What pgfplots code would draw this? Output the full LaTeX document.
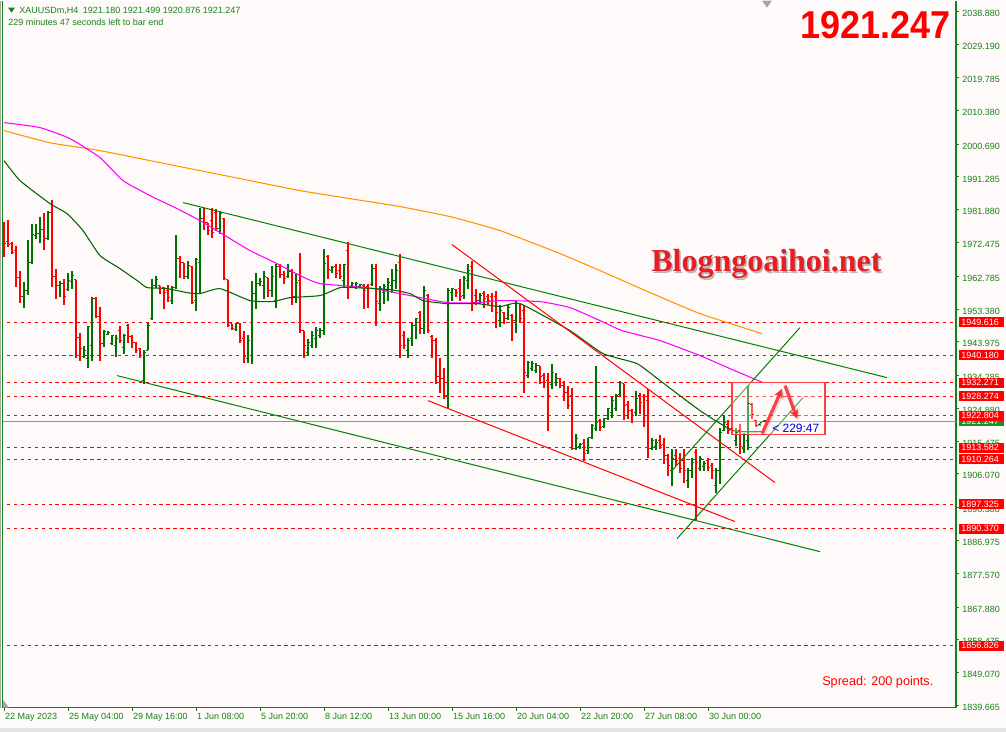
\documentclass[border=0pt]{standalone}
\usepackage{graphicx}
\usepackage{pgfplots}
\pgfplotsset{compat=1.18}
\usepackage{pgfplotstable}
\usepackage{fontspec}
\setmainfont{Liberation Sans}
\newfontfamily\serifbold{Liberation Serif}
\usetikzlibrary{arrows.meta}

\definecolor{bg}{RGB}{255,250,250}
\definecolor{axgreen}{RGB}{24,128,24}
\definecolor{upcol}{RGB}{0,112,0}
\definecolor{dncol}{RGB}{255,0,0}
\definecolor{mamag}{RGB}{255,0,255}
\definecolor{maorange}{RGB}{255,150,0}
\definecolor{magreen}{RGB}{0,100,0}
\definecolor{trgreen}{RGB}{0,128,0}
\definecolor{labred}{RGB}{255,0,0}
\definecolor{labgreen}{RGB}{34,139,34}
\definecolor{wmred}{RGB}{226,32,38}

% open / close ticks of an OHLC bar
\pgfdeclareplotmark{ctick}{\pgfpathmoveto{\pgfpointorigin}\pgfpathlineto{\pgfpoint{1.7pt}{0pt}}\pgfusepathqstroke}
\pgfdeclareplotmark{otick}{\pgfpathmoveto{\pgfpoint{-1.7pt}{0pt}}\pgfpathlineto{\pgfpointorigin}\pgfusepathqstroke}

% XAUUSDm H4 bars: index, open, high, low, close
\pgfplotstableread{
i o h l c
5 1957.0 1961.0 1953.8 1958.7
6 1958.7 1973.3 1957.5 1966.7
7 1966.7 1977.9 1966.4 1974.7
8 1974.5 1977.9 1973.6 1975.0
9 1975.0 1979.9 1972.2 1976.2
11 1973.6 1981.6 1973.3 1981.1
14 1960.1 1961.5 1956.7 1960.7
16 1959.0 1963.6 1958.7 1961.5
17 1961.3 1964.4 1959.0 1963.0
20 1939.7 1942.9 1939.2 1941.5
21 1939.2 1948.6 1936.6 1948.3
22 1942.9 1956.7 1938.6 1956.4
25 1943.5 1947.5 1942.6 1946.9
26 1946.0 1947.2 1945.8 1946.6
27 1943.5 1946.0 1943.2 1945.8
28 1942.9 1946.0 1939.7 1944.9
30 1942.3 1946.3 1940.6 1945.8
35 1932.8 1941.5 1932.0 1940.9
36 1941.5 1949.5 1941.5 1948.6
37 1950.6 1962.1 1950.3 1960.1
38 1960.1 1963.0 1959.5 1961.8
42 1955.8 1960.1 1954.7 1959.5
43 1959.5 1974.5 1959.2 1967.9
46 1962.7 1967.3 1962.1 1965.8
48 1955.8 1968.1 1952.9 1967.6
49 1966.7 1982.5 1958.1 1979.3
54 1976.5 1981.6 1975.0 1980.8
58 1947.5 1949.5 1947.2 1949.2
61 1939.2 1945.8 1938.0 1944.3
62 1940.0 1961.5 1937.7 1957.8
63 1957.8 1963.8 1953.5 1960.7
64 1960.7 1962.4 1960.1 1961.3
65 1960.1 1964.4 1956.4 1962.7
67 1958.7 1965.8 1956.7 1962.7
68 1955.8 1966.4 1953.8 1965.6
71 1962.7 1966.4 1962.4 1964.1
73 1957.0 1963.6 1955.2 1961.0
76 1940.9 1944.9 1940.0 1943.8
77 1942.9 1947.2 1942.3 1945.8
78 1944.9 1948.1 1942.3 1947.2
79 1945.8 1947.8 1945.2 1947.2
80 1947.2 1970.7 1945.8 1966.4
82 1964.4 1965.6 1963.8 1965.3
85 1961.5 1966.4 1959.5 1966.1
87 1959.8 1961.0 1959.5 1960.7
88 1959.5 1961.0 1959.2 1960.7
89 1959.8 1960.7 1959.5 1960.4
92 1960.4 1966.4 1960.1 1965.0
94 1954.9 1960.1 1952.9 1959.2
95 1958.1 1960.7 1954.9 1959.8
96 1958.7 1962.4 1955.8 1961.0
97 1960.1 1965.0 1958.1 1961.5
98 1961.5 1966.4 1959.2 1964.4
101 1941.5 1945.2 1939.4 1944.3
102 1944.9 1949.5 1942.9 1948.6
103 1948.6 1950.9 1944.9 1950.6
105 1947.8 1960.1 1946.3 1958.7
111 1928.5 1959.5 1925.1 1958.7
112 1958.1 1959.5 1955.8 1959.2
115 1957.2 1963.0 1956.4 1962.1
116 1961.5 1966.4 1959.2 1964.4
119 1955.8 1958.1 1954.9 1957.2
124 1950.1 1954.4 1948.1 1952.9
126 1950.6 1954.4 1950.1 1953.8
128 1950.1 1955.8 1946.6 1954.9
131 1934.3 1938.6 1933.7 1938.0
132 1936.3 1938.6 1935.7 1937.7
133 1935.7 1938.0 1934.9 1937.1
137 1931.7 1937.7 1930.5 1935.1
138 1932.3 1934.9 1931.4 1933.4
143 1913.3 1917.6 1912.8 1916.2
144 1913.9 1914.8 1913.3 1914.5
146 1912.8 1916.5 1911.9 1916.5
147 1916.5 1920.5 1916.2 1919.9
148 1919.1 1937.1 1918.5 1920.8
150 1919.6 1922.2 1919.1 1921.9
151 1921.9 1925.1 1921.4 1924.8
152 1923.7 1928.0 1922.2 1927.1
153 1924.8 1929.1 1924.2 1928.5
154 1928.8 1932.8 1928.5 1932.3
158 1923.7 1930.0 1922.8 1927.7
162 1913.3 1916.5 1912.8 1915.6
163 1913.9 1916.2 1912.8 1915.1
167 1907.0 1913.3 1902.7 1910.5
171 1904.1 1907.9 1902.1 1907.0
172 1907.0 1910.5 1905.0 1909.3
174 1907.6 1911.3 1907.0 1910.5
175 1908.2 1909.9 1907.0 1909.0
178 1902.7 1907.9 1900.7 1907.0
179 1907.0 1919.1 1903.3 1917.9
180 1918.5 1922.8 1918.5 1920.8
183 1915.6 1919.1 1914.2 1917.9
185 1913.3 1917.9 1912.2 1917.3
186 1915.6 1931.4 1912.8 1926.2
189 1920.2 1920.8 1919.9 1920.8
190 1921.180 1921.499 1920.876 1921.247
}\upbars

\pgfplotstableread{
i o h l c
0 1977.6 1978.5 1968.4 1972.2
1 1972.7 1978.8 1971.3 1971.9
2 1972.2 1972.5 1969.3 1969.6
3 1970.2 1971.6 1959.8 1962.4
4 1962.4 1964.4 1955.2 1957.0
10 1976.2 1980.8 1970.2 1973.6
12 1981.1 1984.8 1959.8 1962.7
13 1962.7 1965.0 1956.4 1960.1
15 1960.7 1962.1 1954.4 1957.0
18 1961.8 1961.8 1939.2 1945.2
19 1945.2 1946.6 1938.6 1942.0
23 1956.4 1956.7 1950.9 1951.2
24 1951.2 1954.1 1938.6 1943.5
29 1947.2 1948.6 1943.5 1944.3
31 1948.6 1949.2 1943.5 1945.5
32 1945.5 1945.8 1942.3 1943.8
33 1943.8 1943.8 1940.9 1941.5
34 1942.0 1942.3 1939.2 1940.0
39 1960.1 1960.1 1957.8 1959.2
40 1959.5 1959.8 1953.5 1958.1
41 1958.7 1960.4 1955.5 1956.7
44 1967.9 1968.7 1962.4 1966.7
45 1966.7 1966.7 1962.1 1962.7
47 1965.6 1965.6 1954.9 1955.2
50 1979.3 1982.5 1976.2 1978.2
51 1978.2 1978.2 1974.5 1975.9
52 1978.8 1982.5 1973.9 1975.3
53 1981.1 1982.2 1975.9 1976.5
55 1979.3 1979.6 1961.8 1962.1
56 1961.8 1961.8 1948.1 1948.6
57 1949.2 1949.2 1947.5 1947.8
59 1949.2 1949.5 1943.5 1944.3
60 1944.9 1947.2 1938.0 1939.7
66 1962.4 1962.4 1956.7 1958.7
69 1965.6 1966.4 1962.4 1963.3
70 1963.3 1964.4 1960.7 1962.1
72 1964.1 1965.0 1954.4 1957.0
74 1961.5 1969.6 1946.6 1947.2
75 1947.2 1947.2 1939.4 1942.9
81 1968.4 1969.0 1962.1 1964.7
83 1965.6 1966.4 1962.4 1963.6
84 1964.4 1966.4 1962.1 1962.7
86 1970.2 1972.5 1956.4 1959.5
90 1960.1 1960.7 1953.5 1958.7
91 1959.8 1960.7 1953.8 1959.2
93 1965.0 1966.4 1948.6 1955.5
99 1966.7 1969.3 1939.4 1942.9
100 1945.8 1947.2 1942.0 1942.9
104 1952.4 1952.9 1946.3 1947.8
106 1957.2 1957.8 1946.6 1947.2
107 1945.5 1945.8 1939.4 1944.3
108 1944.3 1945.2 1932.0 1934.0
109 1934.0 1939.4 1929.4 1933.4
110 1933.4 1936.6 1927.7 1928.5
113 1959.0 1959.2 1956.7 1958.1
114 1959.2 1962.1 1955.8 1957.0
117 1965.6 1967.3 1952.9 1955.2
118 1957.2 1959.2 1954.4 1955.8
120 1957.8 1958.7 1953.8 1956.4
121 1957.0 1957.8 1954.4 1955.8
122 1957.0 1958.1 1952.4 1954.4
123 1957.0 1958.7 1947.8 1952.4
125 1952.4 1952.4 1949.2 1950.6
127 1951.5 1952.1 1944.3 1950.1
129 1954.9 1955.2 1949.5 1950.6
130 1952.9 1954.4 1929.4 1935.1
134 1937.1 1937.1 1932.0 1934.0
135 1934.3 1935.1 1930.8 1932.3
136 1932.8 1935.1 1918.5 1928.5
139 1933.4 1933.7 1930.8 1931.4
140 1931.4 1932.8 1927.1 1929.4
141 1929.4 1931.4 1924.8 1925.7
142 1928.5 1930.8 1912.8 1913.3
145 1914.8 1916.2 1909.9 1911.9
149 1921.4 1921.9 1918.5 1919.4
155 1932.0 1932.0 1921.4 1925.7
156 1926.0 1927.1 1921.9 1924.2
157 1924.2 1924.8 1920.8 1922.8
159 1928.5 1929.4 1923.4 1926.5
160 1928.3 1929.1 1919.4 1922.8
161 1927.1 1930.5 1910.7 1913.3
164 1915.6 1917.1 1913.3 1914.2
165 1914.5 1916.5 1909.0 1911.3
166 1911.3 1911.9 1905.6 1908.4
168 1911.3 1913.3 1908.4 1909.9
169 1910.5 1912.2 1906.2 1907.6
170 1909.9 1913.3 1903.6 1907.0
173 1912.2 1913.3 1892.7 1909.3
176 1909.9 1910.5 1907.0 1907.9
177 1908.4 1909.3 1904.7 1907.0
181 1920.2 1921.4 1917.6 1918.5
182 1919.1 1920.5 1917.6 1918.5
184 1918.5 1920.5 1911.9 1913.9
187 1926.0 1926.5 1921.9 1923.1
188 1921.4 1921.4 1919.4 1919.9
}\downbars

% pixel-like frame for the annotations around the chart window
\tikzset{px/.style={xshift=-1.5pt, yshift=530.25pt, x=0.75pt, y=-0.75pt}}

\begin{document}
\begin{tikzpicture}
\begin{scope}[px]
\useasboundingbox (0,0) rectangle (1006,731);
\fill[bg] (0,0) rectangle (1006,731);
\fill[gray!22] (0,727) rectangle (1006,731);
\end{scope}

\begin{axis}[
  at={(0,0)}, anchor=south west,
  scale only axis, width=715.5pt, height=530.25pt,
  xmin=-0.5, xmax=238, ymin=1839.0, ymax=2041.9,
  axis x line*=bottom, axis y line*=right,
  axis line style={axgreen, line width=0.9pt},
  tick align=outside, major tick length=2.6pt,
  tick style={axgreen, line width=0.7pt},
  xtick={0,16,...,176},
  xticklabels={22 May 2023,25 May 04:00,29 May 16:00,1 Jun 08:00,5 Jun 20:00,8 Jun 12:00,13 Jun 00:00,15 Jun 16:00,20 Jun 04:00,22 Jun 20:00,27 Jun 08:00,30 Jun 00:00},
  ytick={2038.880,2029.190,2019.785,2010.380,2000.690,1991.285,1981.880,1972.475,1962.785,1953.380,1943.975,1934.285,1924.880,1915.475,1906.070,1896.380,1886.975,1877.570,1867.880,1858.475,1849.070,1839.665},
  yticklabels={2038.880,2029.190,2019.785,2010.380,2000.690,1991.285,1981.880,1972.475,1962.785,1953.380,1943.975,1934.285,1924.880,1915.475,1906.070,1896.380,1886.975,1877.570,1867.880,1858.475,1849.070,1839.665},
  ticklabel style={font=\fontsize{6.75pt}{8pt}\selectfont, text=axgreen, inner sep=0pt},
  xticklabel style={anchor=north west, xshift=0.6pt, yshift=-1.5pt},
  yticklabel style={anchor=west, xshift=2pt, yshift=-1.5pt},
  clip=true,
]
% level lines
\pgfplotsinvokeforeach{1949.616,1940.180,1932.271,1928.274,1922.804,1913.582,1910.264,1897.325,1890.370,1856.826}{
  \addplot[labred, line width=0.75pt, dash pattern=on 2.6pt off 2.6pt] coordinates {(-1,#1) (239,#1)};
}
\addplot[gray!85, line width=0.75pt] coordinates {(-1,1921.247) (239,1921.247)};

% bars
\addplot[upcol, line width=0.9pt, only marks, mark=ctick,
  error bars/.cd, y dir=both, y explicit, error mark=none,
  error bar style={upcol, line width=1.1pt}]
  table[x=i, y=c, y error plus expr=\thisrow{h}-\thisrow{c}, y error minus expr=\thisrow{c}-\thisrow{l}] {\upbars};
\addplot[upcol, line width=0.9pt, only marks, mark=otick] table[x=i, y=o] {\upbars};
\addplot[dncol, line width=0.9pt, only marks, mark=ctick,
  error bars/.cd, y dir=both, y explicit, error mark=none,
  error bar style={dncol, line width=1.1pt}]
  table[x=i, y=c, y error plus expr=\thisrow{h}-\thisrow{c}, y error minus expr=\thisrow{c}-\thisrow{l}] {\downbars};
\addplot[dncol, line width=0.9pt, only marks, mark=otick] table[x=i, y=o] {\downbars};

% moving averages
\addplot[maorange, line width=0.8pt, smooth, tension=0.3] coordinates {
(0,2004.6) (11.5,2001.1) (24,1998.85) (36.5,1995.98) (49,1993.11) (61.5,1990.24) (74,1987.37) (86.5,1985.07) (99,1982.78) (111.5,1979.91) (124,1975.89) (139,1969.29) (149,1964.41) (161.5,1958.10) (174,1952.07) (189.5,1946.33)};
\addplot[mamag, line width=0.8pt, smooth, tension=0.3] coordinates {
(0,2006.89) (9,2005.45) (16.5,2002.29) (24,1996.84) (29.75,1990.24) (36.5,1985.94) (42.75,1982.49) (49,1978.76) (55.25,1974.46) (61.5,1970.15) (68.25,1966.42) (74,1962.98) (79,1960.68) (90.75,1959.53) (99,1957.81) (110.75,1955.23) (118.25,1955.23) (124,1955.80) (134,1955.51) (141.5,1953.79) (149,1950.06) (154.5,1947.19) (164,1944.32) (174,1940.02) (181.5,1936.28) (189.75,1932.27)};
\addplot[magreen, line width=0.8pt, smooth, tension=0.3] coordinates {
(0,1995.98) (4,1990.24) (11.5,1983.64) (15.75,1980.77) (19.75,1975.89) (24,1968.72) (29,1964.98) (34,1960.97) (35.75,1959.53) (40.75,1959.24) (45.75,1958.10) (49,1957.81) (54,1959.24) (61.5,1955.80) (67.25,1955.51) (71.5,1956.66) (79,1957.24) (84,1959.53) (87.25,1959.53) (96.5,1958.96) (101.5,1957.81) (104.75,1955.80) (110.75,1954.94) (118.25,1954.94) (124,1954.08) (129,1954.94) (141.5,1947.19) (149.75,1940.59) (158.25,1937.72) (164,1932.84) (174,1924.23) (182.25,1918.49) (189.5,1918.20)};

% trend lines
\addplot[trgreen, line width=0.75pt] coordinates {(44.75,1983.93) (220.75,1933.70)};
\addplot[trgreen, line width=0.75pt] coordinates {(28.25,1934.28) (204,1883.76)};
\addplot[labred, line width=0.75pt] coordinates {(112,1971.87) (192.75,1903.57)};
\addplot[labred, line width=0.75pt] coordinates {(106,1927.10) (182.75,1892.37)};
\addplot[trgreen, line width=0.75pt] coordinates {(167,1907.01) (199,1948.05)};
\addplot[trgreen, line width=0.75pt] coordinates {(168.25,1887.49) (199.75,1927.96)};

% scenario box and arrows
\draw[red!75, line width=1.1pt, fill=white, fill opacity=0.35] (axis cs:182,1932.3) rectangle (axis cs:205.25,1917.3);
\draw[black, opacity=0.12, line width=2.6pt, -{Stealth[length=7pt,width=7pt]}] (axis cs:189.9,1917.3) -- (axis cs:194.9,1930.2);
\draw[black, opacity=0.12, line width=2.6pt, -{Stealth[length=7pt,width=7pt]}] (axis cs:195.65,1931.1) -- (axis cs:198.65,1921.6);
\draw[red!85!white, opacity=0.85, line width=2.4pt, -{Stealth[length=7pt,width=7pt]}] (axis cs:189.5,1917.6) -- (axis cs:194.5,1930.5);
\draw[red!85!white, opacity=0.85, line width=2.4pt, -{Stealth[length=7pt,width=7pt]}] (axis cs:195.25,1931.4) -- (axis cs:198.25,1921.9);
\end{axis}

\begin{scope}[px]
% window border on the left and shift markers
\draw[gray!70, line width=0.6pt] (0.5,0) -- (0.5,707);
\draw[axgreen, line width=0.9pt] (2.3,0) -- (2.3,707);
\fill[gray!70] (3,699) -- (3,707) -- (9,707) -- cycle;
\fill[gray!70] (762,0) -- (772,0) -- (767,7) -- cycle;

% header
\fill[axgreen] (8,7) -- (15,7) -- (11.5,12) -- cycle;
\node[anchor=base west, inner sep=0pt, text=axgreen, font=\fontsize{6.75pt}{8pt}\selectfont] at (19,13) {XAUUSDm,H4\enspace 1921.180 1921.499 1920.876 1921.247};
\node[anchor=base west, inner sep=0pt, text=axgreen, font=\fontsize{6.75pt}{8pt}\selectfont] at (8,25) {229 minutes 47 seconds left to bar end};

% current price
\node[anchor=base east, inner sep=0pt, text=red, font=\bfseries\fontsize{27pt}{30pt}\selectfont] at (951,38) {\scalebox{1}[1.08]{1921.247}};

% watermark
\node[anchor=base west, inner sep=0pt, text=black!55, opacity=0.5, font=\serifbold\bfseries\fontsize{24pt}{26pt}\selectfont] at (652.5,272.5) {Blogngoaihoi.net};
\node[anchor=base west, inner sep=0pt, text=wmred, font=\serifbold\bfseries\fontsize{24pt}{26pt}\selectfont] at (651,271) {Blogngoaihoi.net};

% countdown
\node[anchor=base west, inner sep=0pt, text=blue!85!black, font=\fontsize{9pt}{10pt}\selectfont] at (772,432) {\textless\ 229:47};

% spread
\node[anchor=base west, inner sep=0pt, text=red, font=\fontsize{9.5pt}{10pt}\selectfont] at (822,685) {Spread: 200 points.};

% price labels on the scale
\fill[labgreen] (958.5,415.9) rectangle (1004,425.9);
\node[anchor=west, inner sep=0pt, text=white, font=\fontsize{6.75pt}{8pt}\selectfont] at (961,420.9) {1921.247};
\foreach \yy/\tt in {321.6/1949.616, 354.4/1940.180, 382.0/1932.271, 395.9/1928.274, 415.0/1922.804, 447.1/1913.582, 458.7/1910.264, 503.8/1897.325, 528.0/1890.370, 644.9/1856.826}{
  \fill[labred] (958.5,\yy-5) rectangle (1004,\yy+5);
  \node[anchor=west, inner sep=0pt, text=white, font=\fontsize{6.75pt}{8pt}\selectfont] at (961,\yy) {\tt};
}
\end{scope}
\end{tikzpicture}
\end{document}
